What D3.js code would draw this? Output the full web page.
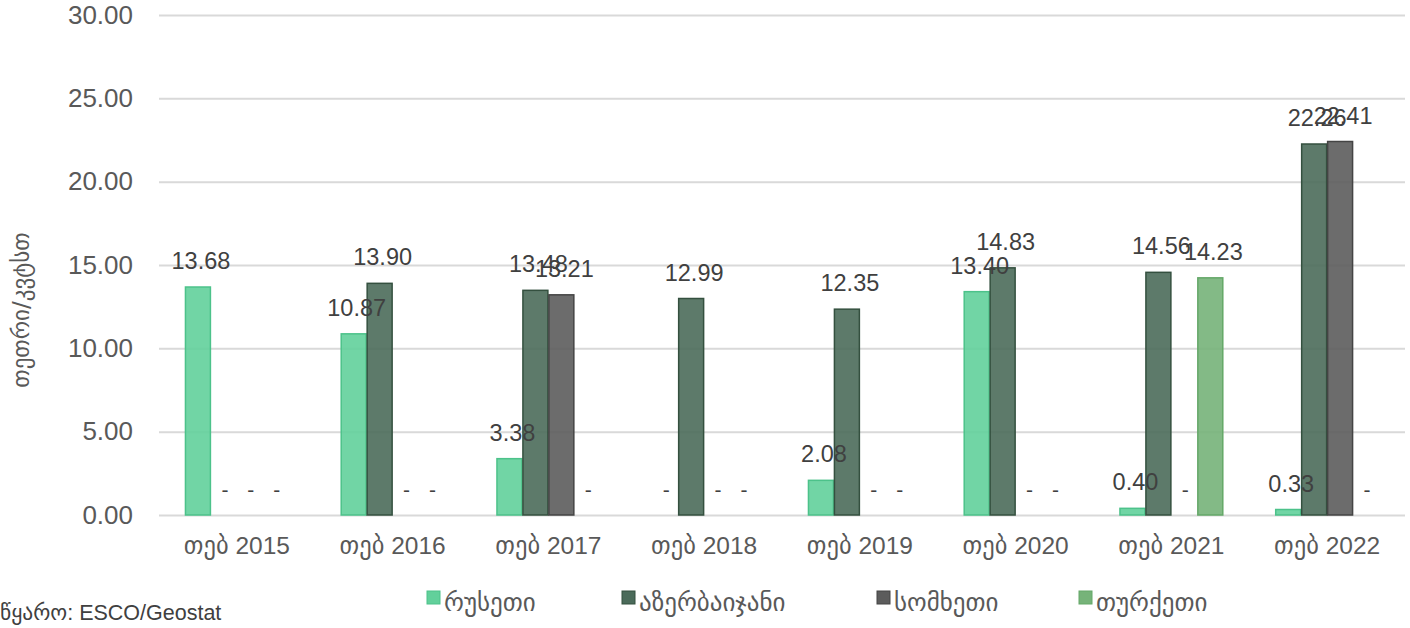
<!DOCTYPE html>
<html>
<head>
<meta charset="utf-8">
<script src="https://cdn.jsdelivr.net/npm/d3@7"></script>
<style>
  html, body { margin: 0; padding: 0; background: #fff; }
  svg { display: block; font-family: "Liberation Sans", Arial, "DejaVu Sans", sans-serif; }
</style>
</head>
<body>
<svg id="chart" width="1410" height="628"></svg>
<script>
// February tariffs, tetri per kWh, by source country (null = no value)
const categories = ["თებ 2015", "თებ 2016", "თებ 2017", "თებ 2018", "თებ 2019", "თებ 2020", "თებ 2021", "თებ 2022"];
const seriesNames = ["რუსეთი", "აზერბაიჯანი", "სომხეთი", "თურქეთი"];
const russia     = [13.68, 10.87, 3.38, null, 2.08, 13.40, 0.40, 0.33];
const azerbaijan = [null, 13.90, 13.48, 12.99, 12.35, 14.83, 14.56, 22.26];
const armenia    = [null, null, 13.21, null, null, null, null, 22.41];
const turkey     = [null, null, null, null, null, null, 14.23, null];
const yTicks = [0, 5, 10, 15, 20, 25, 30];
const yTitle = "თეთრი/კვტსთ";
const sourceNote = "წყარო: ESCO/Geostat";

const seriesValues = [russia, azerbaijan, armenia, turkey];
const fills   = ["#62d09b", "#4b6b5a", "#5c5c5c", "#76b379"];
const strokes = ["#4cc28a", "#34503f", "#444444", "#64a868"];

const svg = d3.select("#chart");
const margin = { left: 159, right: 5, top: 15, bottom: 113 };
const W = 1410, H = 628;

const x = d3.scaleBand().domain(categories).range([margin.left, W - margin.right]).paddingInner(0).paddingOuter(0);
const xs = d3.scaleBand().domain(seriesNames).range([x.bandwidth() / 6, x.bandwidth() * 5 / 6]).padding(0);
const y = d3.scaleLinear().domain([0, 30]).range([H - margin.bottom, margin.top]);

// gridlines + y labels
const yAxis = svg.append("g").attr("transform", `translate(${margin.left},0)`)
  .call(d3.axisLeft(y).tickValues(yTicks).tickFormat(d3.format(".2f")).tickSize(-(W - margin.left - margin.right)).tickPadding(26));
yAxis.select(".domain").remove();
yAxis.selectAll(".tick line").attr("stroke", "#d9d9d9").attr("stroke-width", 2);
yAxis.selectAll(".tick text").attr("fill", "#595959").style("font-size", "26px");

// x labels
const xAxis = svg.append("g").attr("transform", `translate(0,${y(0)})`)
  .call(d3.axisBottom(x).tickSize(0).tickPadding(22));
xAxis.select(".domain").remove();
xAxis.selectAll(".tick text").attr("fill", "#595959").style("font-size", "24.5px")
  .style("font-family", "'Liberation Sans', 'DejaVu Sans', sans-serif");

// bars
const rows = [];
seriesNames.forEach((s, si) => {
  categories.forEach((c, ci) => {
    rows.push({ s, si, c, v: seriesValues[si][ci] });
  });
});

svg.append("g").selectAll("rect")
  .data(rows.filter(d => d.v !== null))
  .join("rect")
  .attr("x", d => x(d.c) + xs(d.s) + 0.5)
  .attr("width", xs.bandwidth() - 1)
  .attr("y", d => y(d.v))
  .attr("height", d => y(0) - y(d.v))
  .attr("fill", d => fills[d.si])
  .attr("fill-opacity", 0.9)
  .attr("stroke", d => strokes[d.si])
  .attr("stroke-width", 1.5);

// value labels ("-" where no value)
svg.append("g").selectAll("text")
  .data(rows)
  .join("text")
  .attr("x", d => x(d.c) + xs(d.s) + xs.bandwidth() / 2 + (d.v === null ? 1 : 3))
  .attr("y", d => y(d.v === null ? 0 : d.v) - 18)
  .attr("text-anchor", "middle")
  .attr("fill", "#404040")
  .style("font-size", d => d.v === null ? "21px" : "23.5px")
  .text(d => d.v === null ? "-" : d3.format(".2f")(d.v));

// y title
svg.append("text")
  .attr("transform", `translate(29,${y(15) + 45}) rotate(-90)`)
  .attr("text-anchor", "middle")
  .attr("fill", "#595959")
  .style("font-size", "23px")
  .style("font-family", "'DejaVu Sans', sans-serif")
  .text(yTitle);

// legend
const legendX = [427, 622, 877, 1079];
const legend = svg.append("g").attr("transform", `translate(0,602)`);
seriesNames.forEach((s, i) => {
  const g = legend.append("g").attr("transform", `translate(${legendX[i]},0)`);
  g.append("rect").attr("x", 0).attr("y", -11).attr("width", 13).attr("height", 13)
    .attr("fill", fills[i]).attr("stroke", strokes[i]).attr("stroke-width", 1);
  g.append("text").attr("x", 17).attr("y", 9).attr("fill", "#595959")
    .style("font-size", "25px").style("font-family", "'DejaVu Sans', sans-serif").text(s);
});

// source note
svg.append("text").attr("x", 0).attr("y", 620).attr("fill", "#404040")
  .style("font-size", "21.5px").text(sourceNote);
</script>
</body>
</html>
